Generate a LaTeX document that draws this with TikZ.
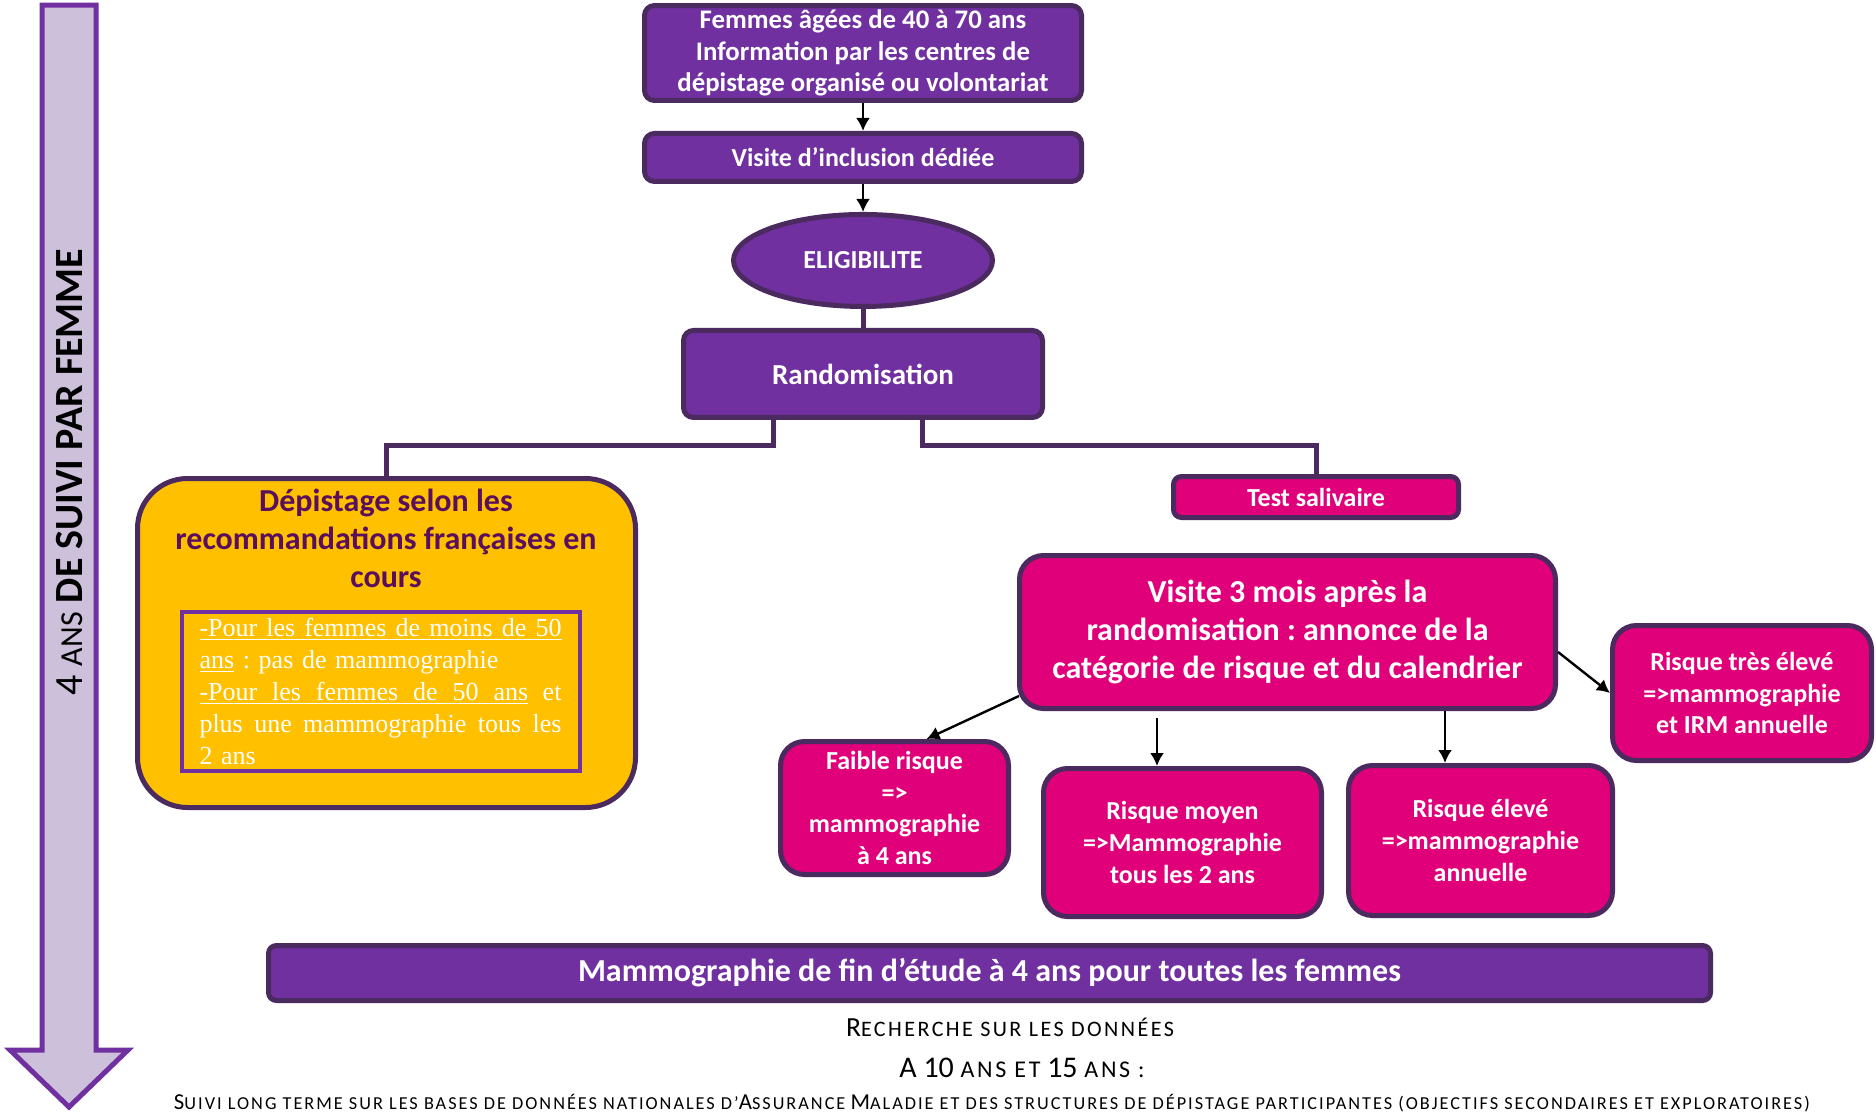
\documentclass[tikz,border=0pt]{standalone}
\usepackage{fontspec}
\setmainfont{Carlito}
\newfontfamily\timesfont{Liberation Serif}
\usetikzlibrary{positioning}
\usetikzlibrary{shapes,calc,arrows.meta}
\definecolor{mauve}{HTML}{7030A0}
\definecolor{bordure}{HTML}{4B2A60}
\definecolor{rose}{HTML}{E0007A}
\definecolor{jaune}{HTML}{FFC000}
\definecolor{lavande}{HTML}{CCC0DA}
\definecolor{prune}{HTML}{5A0E5E}
\frenchspacing
\makeatletter
\newcommand\petitcap[2][11]{{\fontsize{\strip@pt\dimexpr0.8\dimexpr\f@size pt\relax\relax}{\f@baselineskip}\selectfont\addfontfeature{LetterSpace=#1}\MakeUppercase{#2}}}
\makeatother
\newcommand\ligne[2]{\leavevmode\hbox to #1{#2}}
\tikzset{
	boite/.style = {rectangle, rounded corners=5pt, draw=bordure, line width=2.5pt,
	 fill=mauve, text=white, align=center, inner sep=2pt,
	 font=\bfseries\fontsize{13}{15.9}\selectfont},
	risque/.style = {boite, fill=rose, rounded corners=12pt},
	lien/.style = {draw=bordure, line width=2.5pt},
	fleche/.style = {-{Latex[length=6.5pt,width=7pt]}, black, line width=1.2pt},
}

\begin{document}
\begin{tikzpicture}[x=0.5pt, y=-0.5pt]
\useasboundingbox (0,0) rectangle (1876,1114);

% duree du suivi
\draw[draw=mauve, fill=lavande, line width=2.5pt] (42,5) -- (96,5) -- (96,1050) -- (128,1050)
	-- (69,1107) -- (10,1050) -- (42,1050) -- cycle;
\node[rotate=90, font=\fontsize{20}{24}\selectfont] (duree) at (70,472)
	{4 \petitcap[0]{ans} \textbf{DE SUIVI PAR FEMME}};

% inclusion
\node[boite, minimum width=218.5pt, minimum height=45pt, font=\bfseries\fontsize{13.4}{15.9}\selectfont]
	(femmes) at (863,53)
	{Femmes âgées de 40 à 70 ans\\Information par les centres de\\dépistage organisé ou volontariat};
\node[boite, minimum width=218.5pt, minimum height=24pt, below=14pt of femmes] (inclusion)
	{Visite d’inclusion dédiée};
\node[boite, ellipse, minimum width=129.5pt, minimum height=46pt, below=14pt of inclusion] (eligib)
	{ELIGIBILITE};
\node[boite, minimum width=179.5pt, minimum height=43.5pt, below=9.5pt of eligib,
	font=\bfseries\fontsize{14.5}{17}\selectfont] (rando) {Randomisation};
\draw[fleche] (femmes) -- (inclusion);
\draw[fleche] (inclusion) -- (eligib);
\draw[lien] (eligib) -- (rando);

% bras depistage standard
\node[boite, fill=jaune, rounded corners=25pt, minimum width=249pt, minimum height=164.5pt] (depistage)
	at (386.5,643) {};
\node[text=prune, align=center, font=\bfseries\fontsize{16}{19}\selectfont] (titre) at (386,538)
	{Dépistage selon les\\recommandations françaises en\\cours};
\node[draw=mauve, line width=2pt, text=white, align=left, text width=181pt, inner xsep=9pt,
	inner ysep=3pt, font=\timesfont\fontsize{13}{16}\selectfont] (reco) at (380.5,691.5)
	{\underline{\ligne{\linewidth}{-Pour\hfill les\hfill femmes\hfill de\hfill moins\hfill de\hfill 50}}\\
	\underline{ans} : pas de mammographie\\
	\underline{\ligne{0.908\linewidth}{-Pour\hfill les\hfill femmes\hfill de\hfill 50\hfill ans}}\hfill et\\
	\ligne{\linewidth}{plus\hfill une\hfill mammographie\hfill tous\hfill les}\\
	2 ans};

% bras test salivaire
\node[risque, rounded corners=4pt, minimum width=142.5pt, minimum height=20.5pt] (salive)
	at (1316,497) {Test salivaire};
\node[risque, minimum width=268pt, minimum height=76.5pt, font=\bfseries\fontsize{16}{19}\selectfont]
	(visite) at (1287.5,632)
	{Visite 3 mois après la\\randomisation : annonce de la\\catégorie de risque et du calendrier};
\node[risque, minimum width=114pt, minimum height=66.5pt] (faible) at (894.5,808)
	{Faible risque\\=>\\mammographie\\à 4 ans};
\node[risque, minimum width=139pt, minimum height=74pt] (moyen) at (1182.5,842.5)
	{Risque moyen\\=>Mammographie\\tous les 2 ans};
\node[risque, minimum width=132pt, minimum height=75pt] (eleve) at (1480.5,840.5)
	{Risque élevé\\=>mammographie\\annuelle};
\node[risque, minimum width=129.5pt, minimum height=67.5pt] (tres) at (1742,693)
	{Risque très élevé\\=>mammographie\\et IRM annuelle};

\draw[lien] ([xshift=-45pt]rando.south) -- ++(0,-13pt) -| (depistage.north);
\draw[lien] ([xshift=29.5pt]rando.south) -- ++(0,-13pt) -| (salive.north);

\coordinate (pm) at ([xshift=-12.75pt]moyen.north);
\coordinate (pe) at ([xshift=-17.75pt]eleve.north);
\draw[fleche] ([xshift=1pt,yshift=7.5pt]visite.south west) -- ([xshift=16pt]faible.north);
\draw[fleche] ([yshift=-3.5pt]pm |- visite.south) -- (pm);
\draw[fleche] (pe |- visite.south) -- (pe);
\draw[fleche] ([yshift=-10pt]visite.east) -- (tres.west);

% fin d'etude
\node[boite, rounded corners=4pt, minimum width=721pt, minimum height=27.5pt,
	font=\bfseries\fontsize{16}{18}\selectfont] (finale) at (989.5,973)
	{Mammographie de fin d’étude à 4 ans pour toutes les femmes};
\node[font=\fontsize{13.8}{15}\selectfont] (recherche) at (1010,1027)
	{R\petitcap{echerche sur les données}};
\node[font=\fontsize{15}{17}\selectfont] (horizon) at (1022,1068)
	{A 10 \petitcap{ans et} 15 \petitcap{ans :}};
\node[font=\fontsize{11.4}{12}\selectfont] (suivi) at (992,1103)
	{S\petitcap{uivi long terme sur les bases de données nationales d’}A\petitcap{ssurance}
	M\petitcap{aladie et des structures de dépistage participantes (objectifs secondaires et exploratoires)}};
\end{tikzpicture}
\end{document}
